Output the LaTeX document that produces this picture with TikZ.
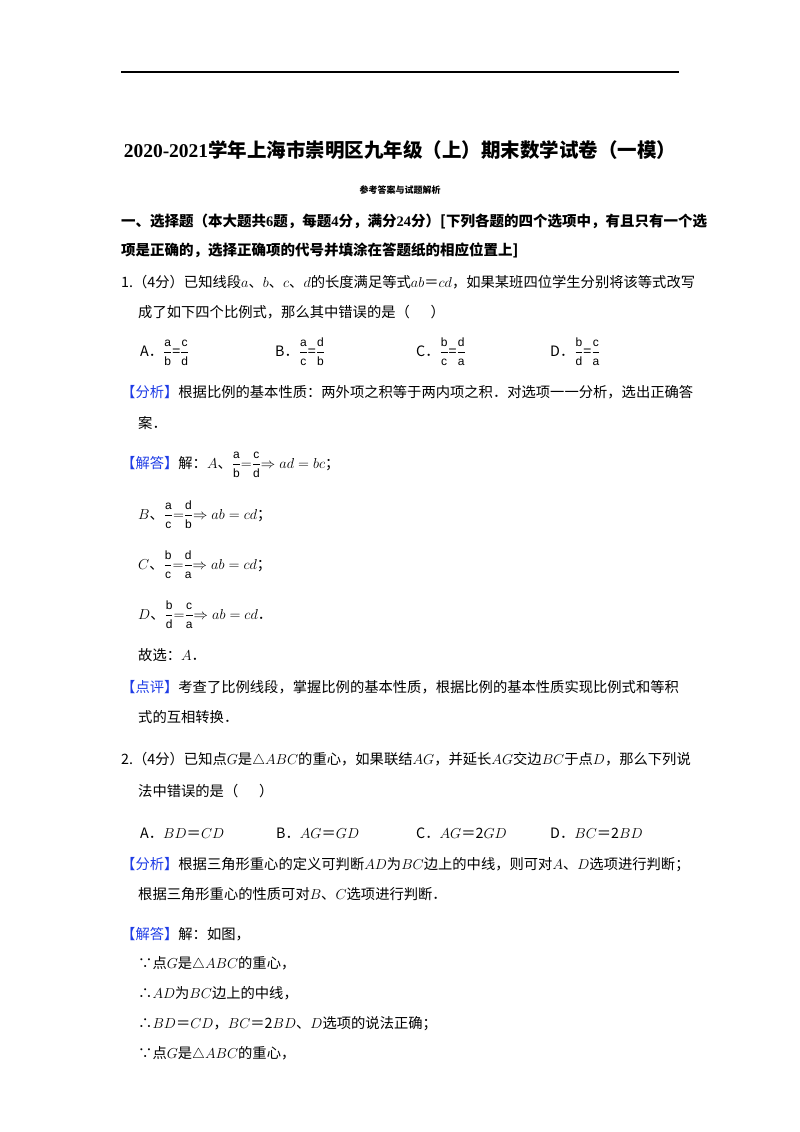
\documentclass[tikz,border=0pt]{standalone}
\usepackage{fontspec}
\setmainfont{Noto Sans CJK SC}
\newfontfamily\tnr{Liberation Serif}
\newfontfamily\ars{Liberation Sans}
\definecolor{hb}{RGB}{30,60,230}
\newcommand{\fr}[2]{$\displaystyle\frac{\hbox{\ars\fontsize{12}{13}\selectfont #1}}{\hbox{\ars\fontsize{12}{13}\selectfont #2}}$}
\newcommand{\hl}[1]{{\color{hb}【#1】}}
\begin{document}
\begin{tikzpicture}[x=1pt,y=-1pt,
  ln/.style={anchor=base west,inner sep=0pt,font=\fontsize{14.3}{16}\selectfont},
  bd/.style={anchor=base west,inner sep=0pt,font=\fontsize{14.5}{16}\selectfont\bfseries}]
\useasboundingbox (0,0) rectangle (800,1132);
\draw[line width=1.2pt] (121,72) -- (679,72);
\node[anchor=base,inner sep=0pt,font=\fontsize{19.5}{22}\selectfont\bfseries] (t) at (400,157) {{\tnr\bfseries 2020-2021}学年上海市崇明区九年级（上）期末数学试卷（一模）};
\node[anchor=base,inner sep=0pt,font=\fontsize{9}{10}\selectfont\bfseries] (s) at (400,193) {参考答案与试题解析};
\node[bd] (h1) at (121,226) {一、选择题（本大题共{\tnr\bfseries 6}题，每题{\tnr\bfseries 4}分，满分{\tnr\bfseries 24}分）[下列各题的四个选项中，有且只有一个选};
\node[bd] (h2) at (121,255) {项是正确的，选择正确项的代号并填涂在答题纸的相应位置上]};
\node[ln] (q1) at (121,287) {1.（4分）已知线段$a$、$b$、$c$、$d$的长度满足等式$ab$＝$cd$，如果某班四位学生分别将该等式改写};
\node[ln] (q1b) at (138,317) {成了如下四个比例式，那么其中错误的是（\quad\ \ ）};
\node[ln] (oa) at (140,356) {A．\fr{a}{b}=\fr{c}{d}};
\node[ln] (ob) at (275,356) {B．\fr{a}{c}=\fr{d}{b}};
\node[ln] (oc) at (416,356) {C．\fr{b}{c}=\fr{d}{a}};
\node[ln] (od) at (550,356) {D．\fr{b}{d}=\fr{c}{a}};
\node[ln] (f1) at (121,397) {\hl{分析}根据比例的基本性质：两外项之积等于两内项之积．对选项一一分析，选出正确答};
\node[ln] (f1b) at (138,428) {案．};
\node[ln] (j1) at (121,468) {\hl{解答}解：$A$、\fr{a}{b}$=$\fr{c}{d}$\Rightarrow ad=bc$；};
\node[ln] (jb) at (138,519) {$B$、\fr{a}{c}$=$\fr{d}{b}$\Rightarrow ab=cd$；};
\node[ln] (jc) at (138,569) {$C$、\fr{b}{c}$=$\fr{d}{a}$\Rightarrow ab=cd$；};
\node[ln] (jd) at (138,619) {$D$、\fr{b}{d}$=$\fr{c}{a}$\Rightarrow ab=cd$．};
\node[ln] (g1) at (138,660) {故选：$A$．};
\node[ln] (p1) at (121,692) {\hl{点评}考查了比例线段，掌握比例的基本性质，根据比例的基本性质实现比例式和等积};
\node[ln] (p1b) at (138,722) {式的互相转换．};
\node[ln] (q2) at (121,764) {2.（4分）已知点$G$是$\triangle ABC$的重心，如果联结$AG$，并延长$AG$交边$BC$于点$D$，那么下列说};
\node[ln] (q2b) at (138,796) {法中错误的是（\quad\ \ ）};
\node[ln] (pa) at (140,838) {A．$BD$＝$CD$};
\node[ln] (pb) at (276,838) {B．$AG$＝$GD$};
\node[ln] (pc) at (416,838) {C．$AG$＝2$GD$};
\node[ln] (pd) at (550,838) {D．$BC$＝2$BD$};
\node[ln] (f2) at (121,869) {\hl{分析}根据三角形重心的定义可判断$AD$为$BC$边上的中线，则可对$A$、$D$选项进行判断；};
\node[ln] (f2b) at (138,899) {根据三角形重心的性质可对$B$、$C$选项进行判断．};
\node[ln] (j2) at (121,939) {\hl{解答}解：如图，};
\node[ln] (l1) at (138,968) {∵点$G$是$\triangle ABC$的重心，};
\node[ln] (l2) at (138,998) {∴$AD$为$BC$边上的中线，};
\node[ln] (l3) at (138,1028) {∴$BD$＝$CD$，$BC$＝2$BD$、$D$选项的说法正确；};
\node[ln] (l4) at (138,1058) {∵点$G$是$\triangle ABC$的重心，};
\end{tikzpicture}
\end{document}
